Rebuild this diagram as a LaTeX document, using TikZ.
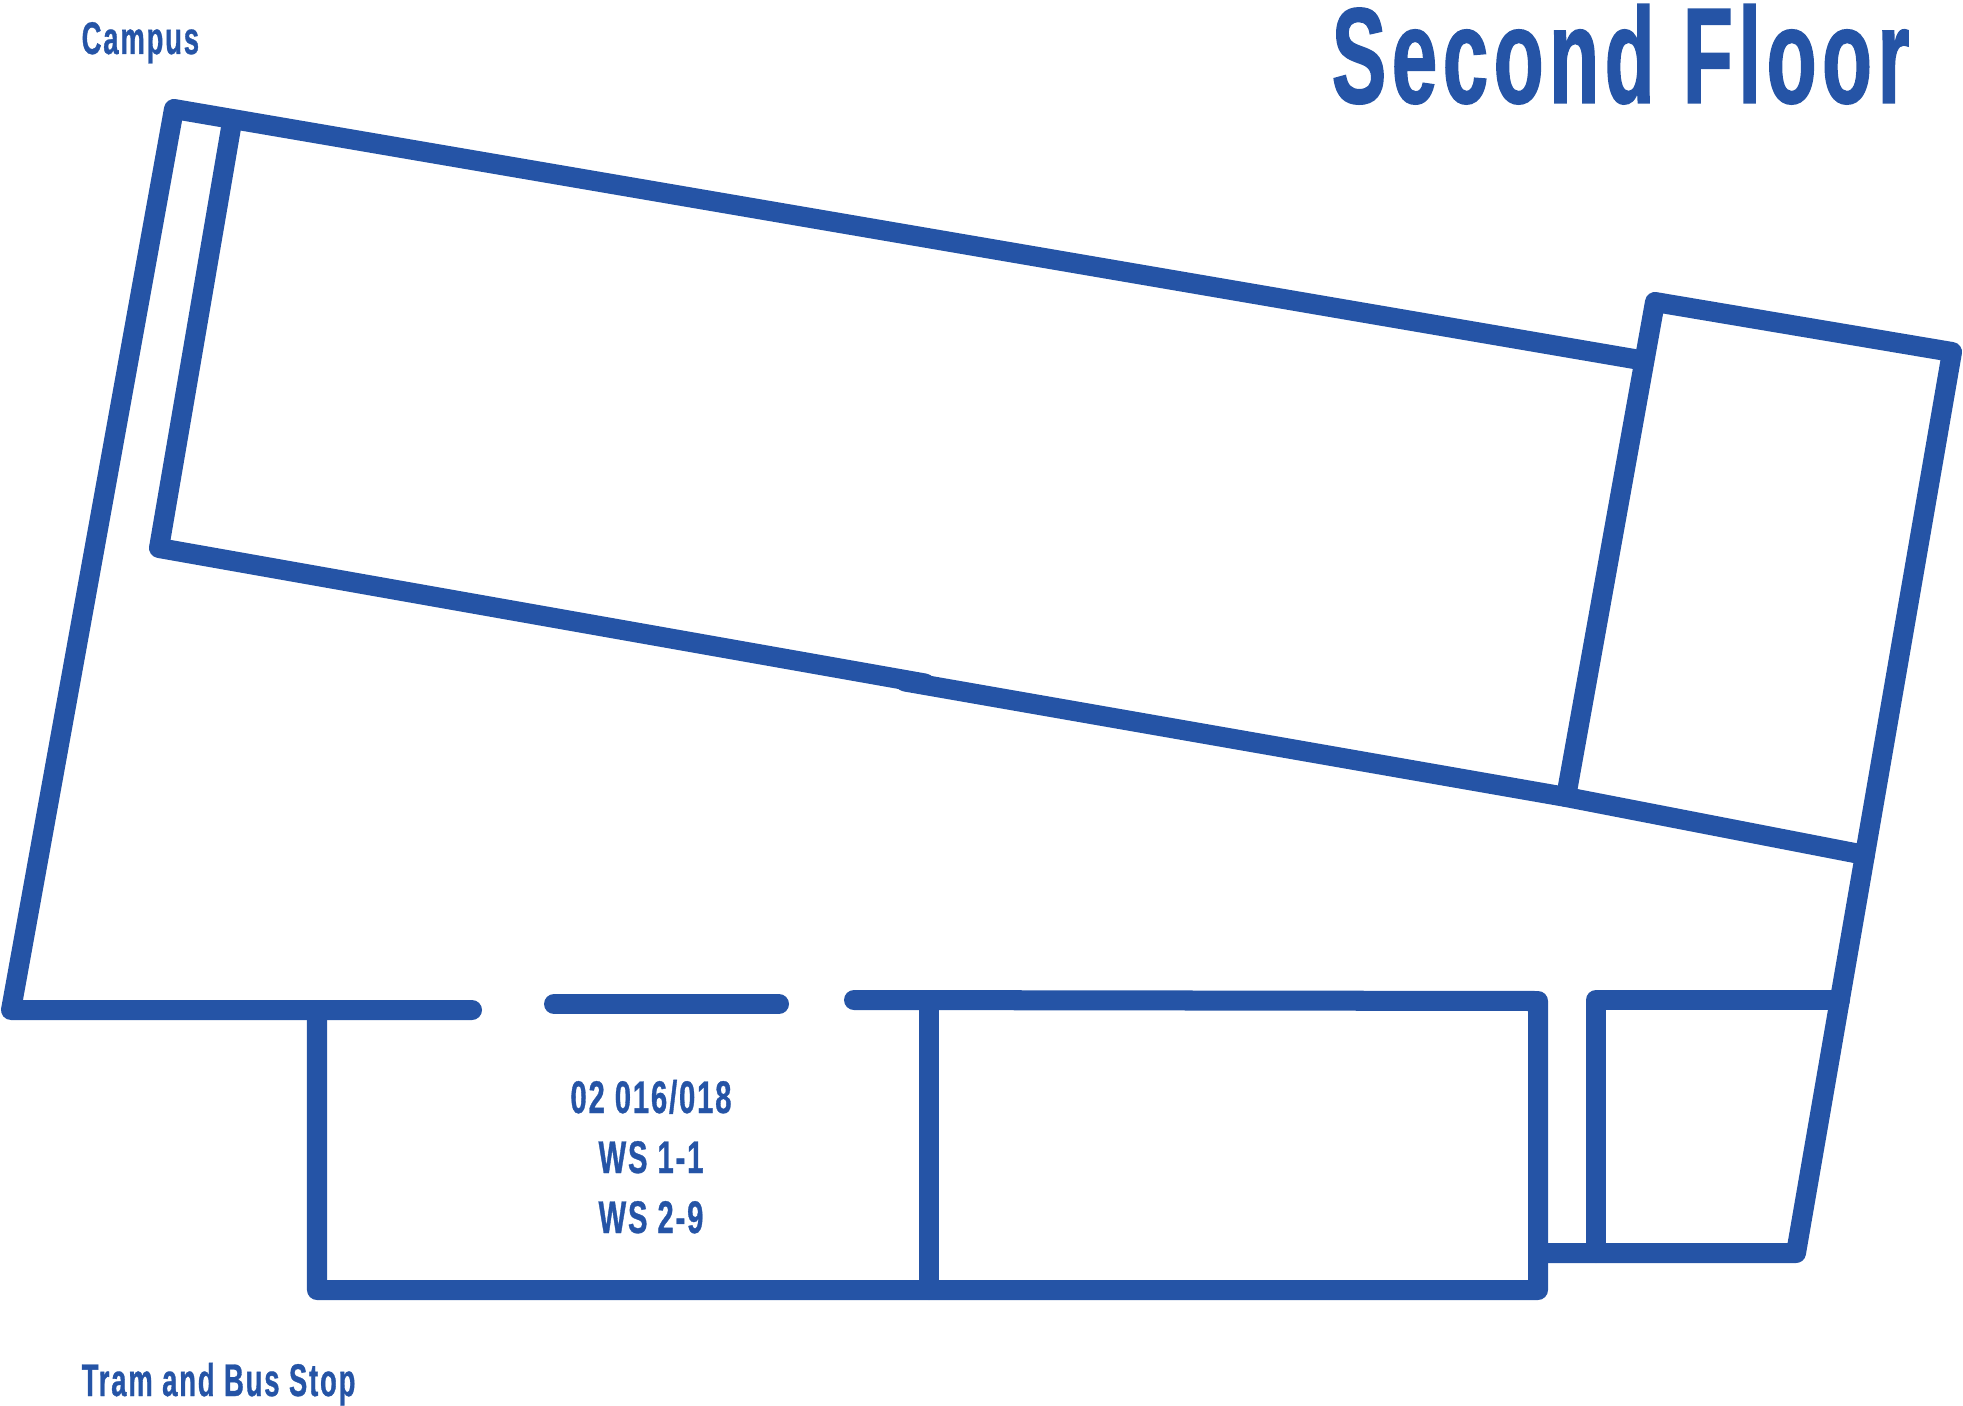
\documentclass[tikz,border=0pt]{standalone}
\usepackage{fontspec}
\usepackage{xcolor}
\definecolor{wallblue}{HTML}{2554A6}
\newfontfamily\dinfont[FakeStretch=0.60,LetterSpace=4,FakeBold=0.7]{Liberation Sans Bold}
\newfontfamily\roomfont[FakeStretch=0.64,LetterSpace=4,FakeBold=0.7]{Liberation Sans Bold}
\newfontfamily\titlefont[FakeStretch=0.60,LetterSpace=4,FakeBold=1]{Liberation Sans Bold}
\tikzset{
  wall/.style={wallblue,line width=0.2cm,line join=round,line cap=round},
  label/.style={wallblue,inner sep=0pt,anchor=base west,font=\dinfont\fontsize{13pt}{13pt}\selectfont},
  roomlabel/.style={label,anchor=base,font=\roomfont\fontsize{13pt}{13pt}\selectfont},
}

\begin{document}
\begin{tikzpicture}[x=0.01cm,y=-0.01cm]

\useasboundingbox (0,0) rectangle (1963,1406);

%%% OUTER WALL %%%
\draw[wall] (472,1010) -- (11,1010) -- (174,109) -- (1640,360);
\draw[wall] (1566,797) -- (1655,302) -- (1952,352) -- (1796,1253) -- (1538,1253);

%%% LONG ROOM %%%
\draw[wall] (232,122) -- (159,548) -- (925,683.5);
\draw[wall] (905,681.5) -- (1566,797) -- (1865,855);

%%% LOWER ROOMS %%%
\draw[wall] (854,1000) -- (1538,1001) -- (1538,1290) -- (317,1290) -- (317,1010);
\draw[wall] (929,1000) -- (929,1290);
\draw[wall] (554,1004) -- (779,1004);
\draw[wall] (1840,1000) -- (1596,1000) -- (1596,1253);

%%% TEXT %%%
\node[label,font=\titlefont\fontsize{38.8pt}{38.8pt}\selectfont] (title) at (1331,103) {Second Floor};
\node[label] (campus) at (81,54) {Campus};
\node[label] (stop) at (81,1396) {Tram and Bus Stop};
\node[roomlabel] (room) at (651,1113) {02 016/018};
\node[roomlabel] (wsone) at (651,1173) {WS 1-1};
\node[roomlabel] (wstwo) at (651,1233) {WS 2-9};

\end{tikzpicture}
\end{document}
